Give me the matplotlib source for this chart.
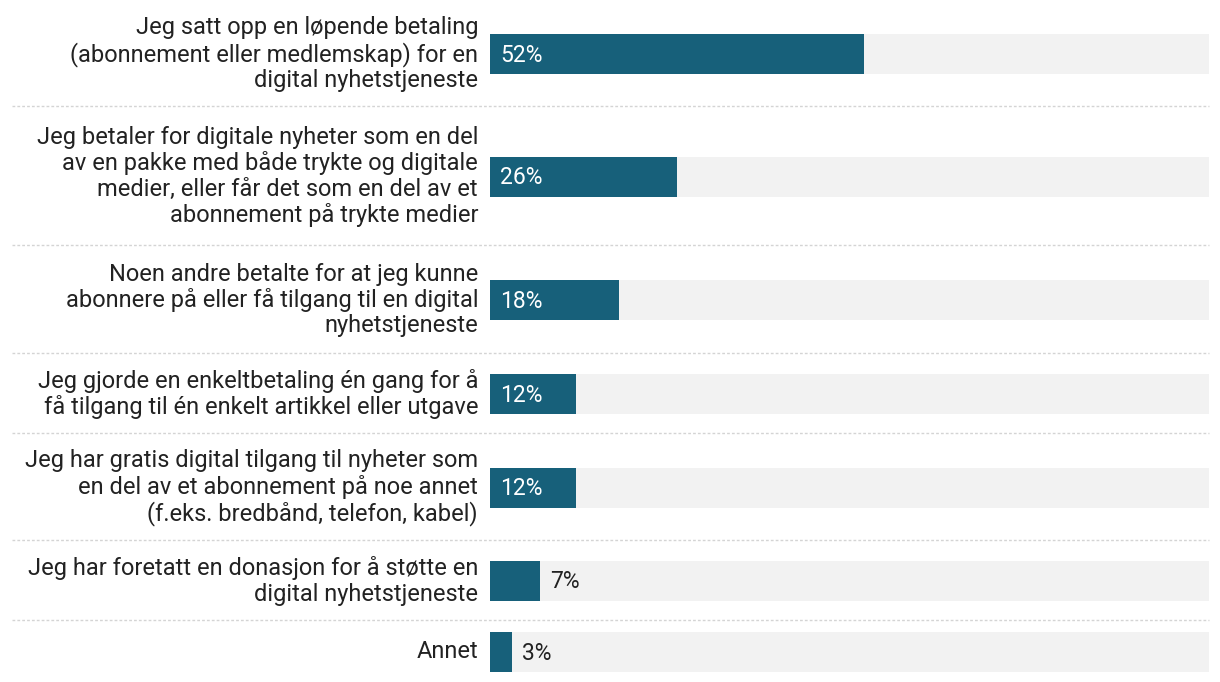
import matplotlib.pyplot as plt

plt.rcParams['font.family'] = ['Roboto', 'DejaVu Sans']

labels = [
    "Jeg satt opp en løpende betaling\n(abonnement eller medlemskap) for en\ndigital nyhetstjeneste",
    "Jeg betaler for digitale nyheter som en del\nav en pakke med både trykte og digitale\nmedier, eller får det som en del av et\nabonnement på trykte medier",
    "Noen andre betalte for at jeg kunne\nabonnere på eller få tilgang til en digital\nnyhetstjeneste",
    "Jeg gjorde en enkeltbetaling én gang for å\nfå tilgang til én enkelt artikkel eller utgave",
    "Jeg har gratis digital tilgang til nyheter som\nen del av et abonnement på noe annet\n(f.eks. bredbånd, telefon, kabel)",
    "Jeg har foretatt en donasjon for å støtte en\ndigital nyhetstjeneste",
    "Annet",
]
values = [52, 26, 18, 12, 12, 7, 3]

# row layout (pixels from top)
row_edges = [0, 106, 245, 353, 433, 540, 620, 682]

bar_color = '#17607a'
bg_color = '#f2f2f2'

W, H = 1220, 682
fig = plt.figure(figsize=(W / 100, H / 100), dpi=100)
x0, x1 = 490, 1209
ax = fig.add_axes([x0 / W, 0, (x1 - x0) / W, 1])
ax.set_xlim(0, 100)
ax.set_ylim(H, 0)
ax.axis('off')

px = 100 / (x1 - x0)  # data units per pixel
for i, (lab, v) in enumerate(zip(labels, values)):
    top, bot = row_edges[i], row_edges[i + 1]
    if i == len(values) - 1:
        c = 652
    else:
        c = (top + bot) / 2 + 1
    ax.barh(c, 100, height=40, color=bg_color, left=0)
    ax.barh(c, v, height=40, color=bar_color, left=0)
    ax.text(-12 * px, c, lab, ha='right', va='center', fontsize=17,
            color='#222222', linespacing=1.13)
    if v >= 10:
        ax.text(10 * px, c + 1, f"{v}%", ha='left', va='center', fontsize=16.5,
                color='white')
    else:
        ax.text(v + 10 * px, c + 1, f"{v}%", ha='left', va='center', fontsize=16.5,
                color='#222222')
    if i < len(values) - 1:
        ax.plot([(12 - x0) * px, 100], [bot, bot], color='#d4d4d4', lw=1.0,
                ls=(0, (2, 1.5)), clip_on=False)

fig.savefig('out.png', dpi=100)
